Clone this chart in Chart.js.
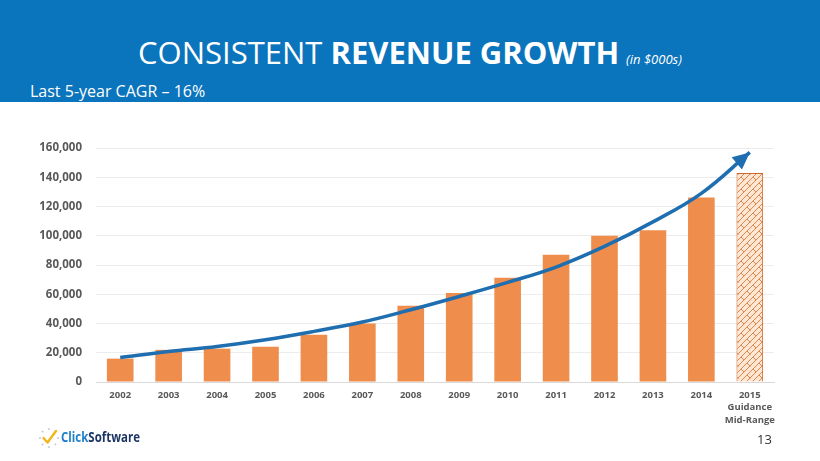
<!DOCTYPE html>
<html>
<head>
<meta charset="utf-8">
<script src="https://cdn.jsdelivr.net/npm/chart.js@4.4.1/dist/chart.umd.min.js"></script>
<style>
  html,body{margin:0;padding:0;}
  body{width:820px;height:461px;position:relative;background:#fff;overflow:hidden;font-family:"Open Sans",sans-serif;}
  #hdr{position:absolute;left:0;top:0;width:820px;height:102px;background:#0a74bc;}
  #title{position:absolute;left:0;top:37px;width:820px;text-align:center;color:#fff;font-size:31px;line-height:31px;white-space:nowrap;}
  #title b{font-weight:700;}
  #title i{font-size:13px;font-style:italic;margin-left:7px;}
  #sub{position:absolute;left:30px;top:83px;color:#fff;font-size:16px;line-height:16px;white-space:nowrap;}
  #chart{position:absolute;left:0;top:0;}
  #logo{position:absolute;left:38px;top:427px;height:22px;}
  #logotext{position:absolute;left:61px;top:429px;font-size:14px;line-height:16px;font-weight:700;transform:scaleX(0.82);transform-origin:left top;white-space:nowrap;}
  #page{position:absolute;left:757px;top:431px;font-size:13px;line-height:16px;color:#333;}
</style>
</head>
<body>
<div id="hdr"></div>
<div id="title">CONSISTENT <b>REVENUE GROWTH</b><i>(in $000s)</i></div>
<div id="sub">Last 5-year CAGR – 16%</div>
<canvas id="chart" width="820" height="461"></canvas>
<svg id="logo" width="22" height="22" viewBox="0 0 22 22">
  <g fill="#b9c3cf">
    <circle cx="11" cy="2" r="0.9"/><circle cx="4.6" cy="4.6" r="0.9"/><circle cx="2" cy="11" r="0.9"/>
    <circle cx="4.6" cy="17.4" r="0.9"/><circle cx="11" cy="20" r="0.9"/><circle cx="17.4" cy="17.4" r="0.9"/>
    <circle cx="20" cy="11" r="0.9"/>
  </g>
  <circle cx="17.4" cy="4.6" r="0.9" fill="#f2b51c"/>
  <path d="M5.5 11 L9.5 15.5 L18 4" stroke="#f2b51c" stroke-width="2.4" fill="none" stroke-linecap="round" stroke-linejoin="round"/>
</svg>
<div id="logotext"><span style="color:#1d7fc6">Click</span><span style="color:#1c3563">Software</span></div>
<div id="page">13</div>
<script>
// ---- data ----
const categories = ['2002','2003','2004','2005','2006','2007','2008','2009','2010','2011','2012','2013','2014',['2015','Guidance','Mid-Range']];
const revenue = [16000, 22000, 22800, 24100, 32300, 40000, 52200, 60800, 71300, 87000, 100000, 103700, 126200, 142900];
const trend = [16800, 20900, 24300, 28900, 34600, 41000, 49400, 58500, 68100, 78600, 92700, 109500, 129000, 157000];
const yTicks = [0, 20000, 40000, 60000, 80000, 100000, 120000, 140000, 160000];

// ---- hatch pattern for guidance bar ----
function makePattern(){
  const c = document.createElement('canvas');
  c.width = 12; c.height = 12;
  const g = c.getContext('2d');
  g.fillStyle = '#fde6d2';
  g.fillRect(0,0,12,12);
  g.strokeStyle = '#dc7a3e';
  g.lineWidth = 0.9;
  g.beginPath();
  g.moveTo(0,12); g.lineTo(12,0);
  g.moveTo(-6,12); g.lineTo(6,0);
  g.moveTo(6,12); g.lineTo(18,0);
  g.moveTo(3,3); g.lineTo(6.5,6.5);
  g.moveTo(9,9); g.lineTo(12.5,12.5);
  g.stroke();
  return g.createPattern(c,'repeat');
}
const pattern = makePattern();
const n = revenue.length;
const barColors = revenue.map((v,i)=> i===n-1 ? pattern : '#ef8d4d');
const barBorders = revenue.map((v,i)=> i===n-1 ? '#cc6a2c' : 'rgba(0,0,0,0)');
const barBorderW = revenue.map((v,i)=> i===n-1 ? 1 : 0);

const arrowPlugin = {
  id:'arrowHead',
  afterDatasetsDraw(chart){
    const meta = chart.getDatasetMeta(1);
    const pts = meta.data;
    const last = pts[pts.length-1];
    const prev = pts[pts.length-2];
    let bx = isFinite(last.cp1x) ? last.cp1x : prev.x;
    let by = isFinite(last.cp1y) ? last.cp1y : prev.y;
    let dx = last.x - bx, dy = last.y - by;
    const len = Math.hypot(dx,dy) || 1;
    dx/=len; dy/=len;
    const L = 17, W = 8;
    const ctx = chart.ctx;
    const baseX = last.x - dx*L, baseY = last.y - dy*L;
    ctx.save();
    ctx.fillStyle = '#1f6eb0';
    ctx.beginPath();
    ctx.moveTo(last.x, last.y);
    ctx.lineTo(baseX - dy*W, baseY + dx*W);
    ctx.lineTo(baseX + dy*W, baseY - dx*W);
    ctx.closePath();
    ctx.fill();
    ctx.restore();
  }
};

new Chart(document.getElementById('chart'), {
  data: {
    labels: categories,
    datasets: [
      {
        type:'bar',
        data: revenue,
        backgroundColor: barColors,
        borderColor: barBorders,
        borderWidth: barBorderW,
        categoryPercentage: 1.0,
        barPercentage: 0.55,
        order: 1
      },
      {
        type:'line',
        data: trend,
        borderColor:'#1f6eb0',
        borderWidth:3.5,
        borderCapStyle:'butt',
        pointRadius:0,
        fill:false,
        tension:0.4,
        order: 0
      }
    ]
  },
  options: {
    responsive:false,
    animation:false,
    layout:{ padding:{ top:148, right:46, bottom:0, left:0 } },
    plugins:{ legend:{display:false}, tooltip:{enabled:false} },
    scales:{
      x:{
        grid:{ display:false, drawTicks:false },
        border:{ display:true, color:'#d9d9d9', width:1 },
        ticks:{ color:'#595959', font:{ family:'"Open Sans"', size:9.5, weight:'bold', lineHeight:1.3 }, padding:7, maxRotation:0, autoSkip:false },
        afterFit(s){ s.height = 79; }
      },
      y:{
        min:0, max:160000,
        afterBuildTicks(s){ s.ticks = yTicks.map(v=>({value:v})); },
        grid:{ color:'#ececec', drawTicks:false },
        border:{ display:false },
        ticks:{ color:'#595959', font:{ family:'"Open Sans"', size:11.5, weight:'bold' }, padding:14,
          callback:(v)=> Number(v).toLocaleString('en-US') },
        afterFit(s){ s.width = 96; }
      }
    }
  },
  plugins:[arrowPlugin]
});
</script>
</body>
</html>
